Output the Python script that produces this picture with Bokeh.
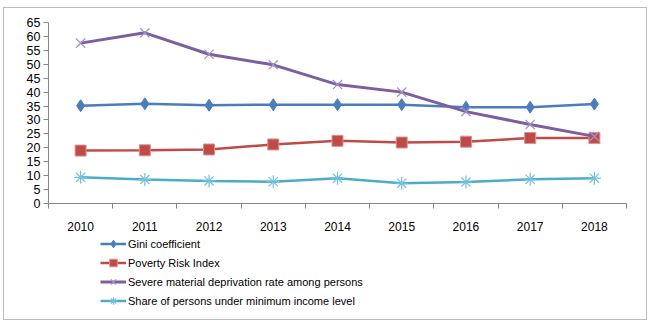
from bokeh.plotting import figure
from bokeh.layouts import column
from bokeh.models import LinearAxis, FixedTicker, Range1d, Legend, LegendItem
from bokeh.embed import file_html
from bokeh.resources import INLINE

years = ["2010", "2011", "2012", "2013", "2014", "2015", "2016", "2017", "2018"]
gini = [35.1, 35.8, 35.3, 35.5, 35.5, 35.5, 34.6, 34.6, 35.7]
poverty = [19.0, 19.1, 19.4, 21.2, 22.5, 21.9, 22.2, 23.5, 23.5]
severe = [57.6, 61.3, 53.6, 49.8, 42.7, 40.0, 33.0, 28.4, 24.1]
share = [9.4, 8.6, 8.1, 7.8, 9.1, 7.3, 7.7, 8.7, 9.1]
names = ["Gini coefficient", "Poverty Risk Index",
         "Severe material deprivation rate among persons",
         "Share of persons under minimum income level"]
y_ticks = list(range(0, 70, 5))

FONT = "Liberation Sans"
x = list(range(len(years)))

styles = [
    dict(line_color="#4a7ebb", line_width=2.5, marker="diamond", size=12,
         fill_color="#4a7ebb", mline="#4a7ebb", mwidth=1),
    dict(line_color="#be4b48", line_width=2.5, marker="square", size=11,
         fill_color="#be4b48", mline="#d9928f", mwidth=1),
    dict(line_color="#7d5fa0", line_width=3, marker="x", size=13,
         fill_color=None, mline="#a293c4", mwidth=1.2),
    dict(line_color="#4bacc6", line_width=2.5, marker="asterisk", size=13,
         fill_color=None, mline="#72c3da", mwidth=1.2),
]
series = [gini, poverty, severe, share]

p = figure(width=642, height=225, output_backend="svg", toolbar_location=None,
           x_range=Range1d(-0.5, len(years) - 0.5), y_range=Range1d(0, 65),
           x_axis_type=None, y_axis_type=None,
           min_border_left=44, min_border_right=20, min_border_top=14, min_border_bottom=30)
p.outline_line_color = None
p.xgrid.visible = False
p.ygrid.visible = False
p.border_fill_color = "white"

yax = LinearAxis(ticker=FixedTicker(ticks=y_ticks))
yax.axis_line_color = "#868686"
yax.major_tick_line_color = "#868686"
yax.major_tick_out = 5
yax.major_tick_in = 0
yax.minor_tick_line_color = None
yax.major_label_text_font = FONT
yax.major_label_text_font_size = "12.5px"
yax.major_label_text_color = "#000000"
yax.major_label_standoff = 3
p.add_layout(yax, "left")

xax = LinearAxis(ticker=FixedTicker(ticks=x, minor_ticks=[i - 0.5 for i in range(len(years) + 1)]),
                 major_label_overrides={i: y for i, y in enumerate(years)})
xax.axis_line_color = "#868686"
xax.major_tick_line_color = None
xax.minor_tick_line_color = "#868686"
xax.minor_tick_out = 5
xax.minor_tick_in = 0
xax.major_label_text_font = FONT
xax.major_label_text_font_size = "12px"
xax.major_label_text_color = "#000000"
xax.major_label_standoff = 12
p.add_layout(xax, "below")

for s, vals in zip(styles, series):
    p.line(x, vals, line_color=s["line_color"], line_width=s["line_width"])
    p.scatter(x, vals, marker=s["marker"], size=s["size"], fill_color=s["fill_color"],
              line_color=s["mline"], line_width=s["mwidth"])

# legend panel (its renderers hold a single off-screen point so only the legend shows)
lg = figure(width=642, height=86, output_backend="svg", toolbar_location=None,
            x_range=Range1d(0, 1), y_range=Range1d(0, 1),
            x_axis_type=None, y_axis_type=None,
            min_border_left=0, min_border_right=0, min_border_top=0, min_border_bottom=0)
lg.outline_line_color = None
lg.xgrid.visible = False
lg.ygrid.visible = False
items = []
for s, name in zip(styles, names):
    r1 = lg.line([-5, -4], [-5, -5], line_color=s["line_color"], line_width=s["line_width"])
    r2 = lg.scatter([-5], [-5], marker=s["marker"], size=s["size"] - 4, fill_color=s["fill_color"],
                    line_color=s["mline"], line_width=s["mwidth"])
    items.append(LegendItem(label=name, renderers=[r1, r2]))

legend = Legend(items=items, location=(52, 9), orientation="vertical")
legend.label_text_font = FONT
legend.label_text_font_size = "11px"
legend.label_text_color = "#000000"
legend.glyph_width = 26
legend.glyph_height = 19
legend.label_height = 19
legend.spacing = 0
legend.padding = 0
legend.margin = 0
legend.label_standoff = 2
legend.border_line_color = None
legend.background_fill_alpha = 0
lg.add_layout(legend, "center")

layout = column(p, lg, spacing=0)
layout.styles = {"border": "1px solid #bdbdbd", "margin": "7px 0 0 3px", "background": "white"}

open("out.html", "w").write(file_html(layout, INLINE))
